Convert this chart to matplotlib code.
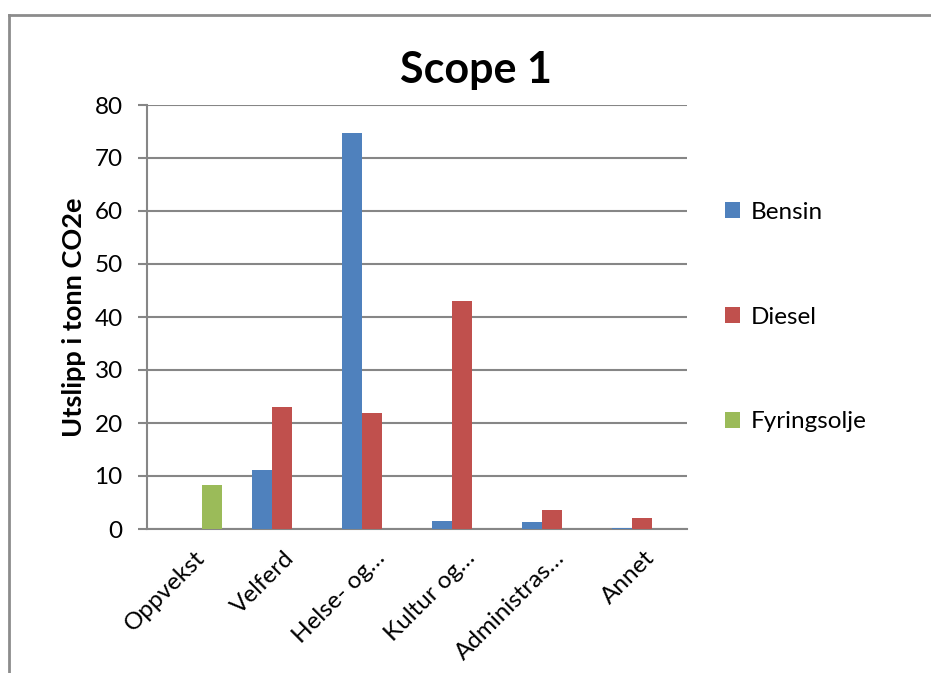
import numpy as np
import matplotlib.pyplot as plt
from matplotlib.lines import Line2D

plt.rcParams['font.family'] = ['Lato', 'DejaVu Sans']

categories = ["Oppvekst", "Velferd", "Helse- og…", "Kultur og…", "Administras…", "Annet"]
bensin = [0, 11.1, 74.8, 1.5, 1.3, 0.2]
diesel = [0, 23.1, 21.8, 43.1, 3.5, 2.1]
fyringsolje = [8.3, 0, 0, 0, 0, 0]
series = [("Bensin", bensin, "#4f81bd"), ("Diesel", diesel, "#c0504d"), ("Fyringsolje", fyringsolje, "#9bbb59")]

W, H = 931, 673
fig = plt.figure(figsize=(W / 100, H / 100), dpi=100)
ax = fig.add_axes([147 / W, 1 - 529 / H, 540 / W, 424 / H])

x = np.arange(len(categories))
w = 1 / 4.5
for i, (name, vals, col) in enumerate(series):
    ax.bar(x + (i - 1) * w, vals, w, color=col, label=name, zorder=3)

ax.set_xlim(-0.5, len(categories) - 0.5)
ax.set_ylim(0, 80)
ax.set_yticks(range(0, 81, 10))
ax.grid(axis='y', color='#868686', linewidth=1.5, zorder=0)
ax.set_xticks(x + 0.02)
ax.set_xticklabels(categories, rotation=45, ha='right', rotation_mode='anchor', fontsize=17.5)
ax.tick_params(axis='x', length=0, pad=13)
ax.tick_params(axis='y', labelsize=17.5, length=6.5, color='#868686', width=1.5, pad=11)
for s in ['top', 'right']:
    ax.spines[s].set_visible(False)
for s in ['left', 'bottom']:
    ax.spines[s].set_color('#868686')
    ax.spines[s].set_linewidth(1.5)

ax.set_ylabel("Utslipp i tonn CO2e", fontsize=19.5, fontweight='bold', labelpad=6)
fig.text(476 / W, 1 - 70 / H, "Scope 1", fontsize=31, fontweight='bold', ha='center', va='center')

ax.legend(loc='center left', bbox_to_anchor=(1.03, 0.5), frameon=False, fontsize=17.5,
          handlelength=0.62, handleheight=0.62, labelspacing=3.45, handletextpad=0.45)

fig.add_artist(Line2D([9 / W, 1], [1 - 15 / H, 1 - 15 / H], color='#8c8c8c', linewidth=2))
fig.add_artist(Line2D([9 / W, 9 / W], [0, 1 - 15 / H], color='#8c8c8c', linewidth=2))

fig.savefig("out.png", dpi=100)
